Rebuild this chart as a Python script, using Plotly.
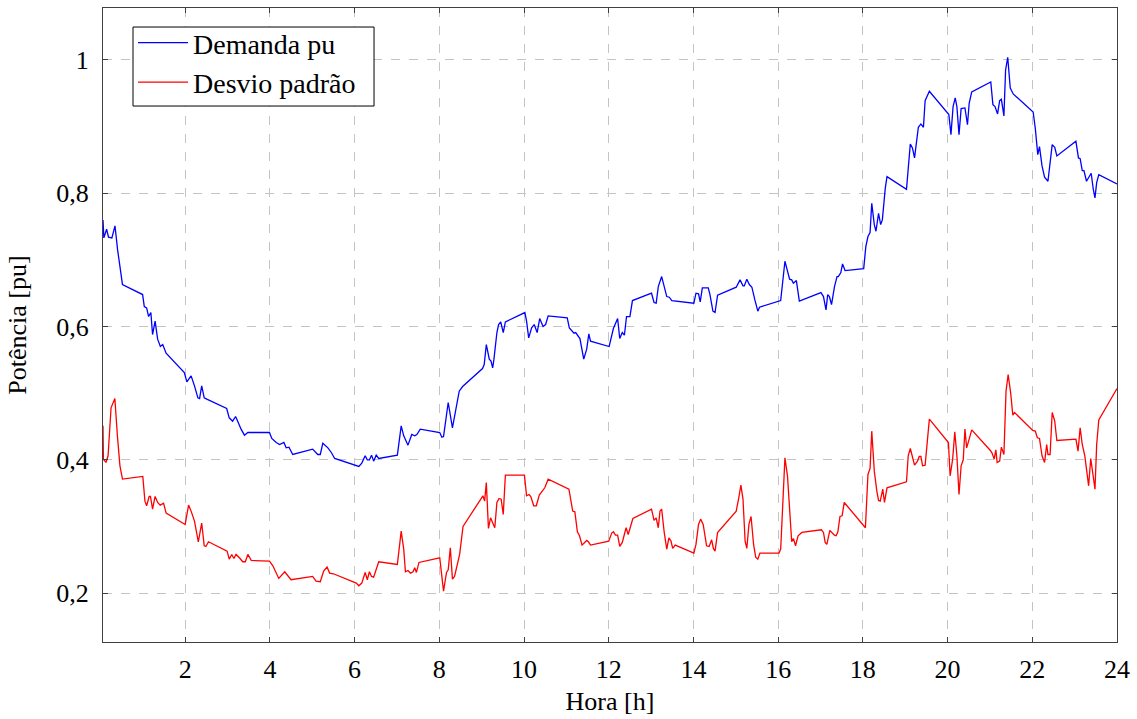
import plotly.graph_objects as go

# Demanda média (pu) ao longo do dia
hora_demanda = [
    0.06, 0.08, 0.145, 0.19, 0.27, 0.343, 0.405, 0.46, 0.52, 0.995, 1.035, 1.09, 1.137, 1.19, 1.23,
    1.29, 1.35, 1.414, 1.47, 1.55, 1.98, 2.04, 2.14, 2.22, 2.30, 2.34, 2.39, 2.45, 2.51, 2.98,
    3.04, 3.12, 3.19, 3.24, 3.32, 3.40, 3.48, 3.99, 4.045, 4.15, 4.23, 4.33, 4.385, 4.45, 4.54,
    5.01, 5.13, 5.19, 5.25, 5.37, 5.45, 5.53, 6.0, 6.10, 6.17, 6.25, 6.30, 6.35, 6.40, 6.45,
    6.51, 6.57, 7.01, 7.10, 7.16, 7.26, 7.35, 7.42, 7.47, 7.55, 8.01, 8.06, 8.10, 8.21, 8.31,
    8.39, 8.47, 8.55, 9.02, 9.06, 9.11, 9.18, 9.22, 9.26, 9.29, 9.36, 9.40, 9.45, 9.51, 9.56,
    10.02, 10.06, 10.11, 10.18, 10.24, 10.31, 10.37, 10.45, 10.51, 10.57, 11.02, 11.07, 11.12,
    11.18, 11.22, 11.28, 11.32, 11.41, 11.48, 11.53, 11.57, 12.01, 12.07, 12.11, 12.21, 12.26,
    12.32, 12.37, 12.42, 12.50, 12.56, 13.01, 13.07, 13.12, 13.17, 13.25, 13.37, 13.43, 13.49,
    14.01, 14.06, 14.12, 14.16, 14.21, 14.35, 14.39, 14.46, 14.51, 14.57, 15.01, 15.10, 15.17,
    15.20, 15.26, 15.32, 15.38, 15.45, 15.52, 15.56, 16.01, 16.06, 16.16, 16.27, 16.32, 16.36,
    16.43, 16.50, 17.01, 17.07, 17.13, 17.17, 17.21, 17.26, 17.33, 17.39, 17.42, 17.48, 17.52,
    17.58, 18.02, 18.07, 18.12, 18.17, 18.21, 18.27, 18.31, 18.37, 18.42, 18.46, 18.53, 18.57,
    19.03, 19.12, 19.17, 19.22, 19.31, 19.37, 19.43, 19.47, 19.57, 20.03, 20.08, 20.13, 20.18,
    20.22, 20.27, 20.32, 20.41, 20.47, 20.51, 20.57, 21.02, 21.07, 21.12, 21.18, 21.23, 21.27,
    21.33, 21.37, 21.42, 21.48, 21.55, 22.02, 22.07, 22.13, 22.17, 22.23, 22.29, 22.37, 22.47,
    22.53, 22.58, 23.03, 23.09, 23.13, 23.18, 23.22, 23.28, 23.33, 23.39, 23.44, 23.48, 23.52,
    23.57, 24.0,
]
demanda = [
    0.760, 0.733, 0.746, 0.734, 0.733, 0.751, 0.715, 0.690, 0.663, 0.648, 0.630, 0.628, 0.615, 0.621, 0.588,
    0.608, 0.581, 0.570, 0.573, 0.560, 0.531, 0.517, 0.526, 0.511, 0.493, 0.492, 0.511, 0.493, 0.491, 0.477,
    0.463, 0.458, 0.465, 0.458, 0.446, 0.437, 0.441, 0.441, 0.432, 0.426, 0.423, 0.426, 0.418, 0.419, 0.408,
    0.416, 0.408, 0.408, 0.425, 0.418, 0.411, 0.402, 0.392, 0.390, 0.395, 0.406, 0.400, 0.400, 0.407, 0.398,
    0.407, 0.402, 0.407, 0.451, 0.436, 0.422, 0.438, 0.436, 0.438, 0.446, 0.441, 0.434, 0.435, 0.486, 0.448,
    0.473, 0.503, 0.510, 0.537, 0.543, 0.573, 0.551, 0.548, 0.538, 0.551, 0.591, 0.603, 0.607, 0.591, 0.607,
    0.621, 0.608, 0.583, 0.598, 0.603, 0.591, 0.612, 0.600, 0.603, 0.616, 0.613, 0.598, 0.594,
    0.590, 0.591, 0.585, 0.582, 0.551, 0.566, 0.589, 0.578, 0.570, 0.588, 0.597, 0.612, 0.582,
    0.591, 0.587, 0.615, 0.615, 0.639, 0.650, 0.636, 0.635, 0.660, 0.675, 0.645, 0.644, 0.639,
    0.635, 0.650, 0.649, 0.637, 0.658, 0.658, 0.648, 0.623, 0.621, 0.647, 0.659, 0.670, 0.661,
    0.661, 0.671, 0.663, 0.659, 0.640, 0.623, 0.629, 0.639, 0.639, 0.698, 0.671, 0.670, 0.665,
    0.669, 0.638, 0.651, 0.645, 0.625, 0.648, 0.645, 0.633, 0.660, 0.675, 0.675, 0.681, 0.694,
    0.684, 0.687, 0.720, 0.735, 0.741, 0.785, 0.753, 0.743, 0.770, 0.753, 0.760, 0.808, 0.825,
    0.806, 0.874, 0.868, 0.853, 0.899, 0.904, 0.899, 0.939, 0.953, 0.918, 0.888, 0.930, 0.943,
    0.930, 0.888, 0.927, 0.928, 0.903, 0.935, 0.952, 0.967, 0.933, 0.930, 0.919, 0.939, 0.941,
    0.916, 0.985, 1.004, 0.958, 0.949, 0.922, 0.898, 0.858, 0.870, 0.841, 0.824, 0.818, 0.873,
    0.869, 0.856, 0.878, 0.853, 0.852, 0.834, 0.834, 0.818, 0.824, 0.830, 0.806, 0.793, 0.816,
    0.828, 0.814,
]

# Desvio padrão da demanda (pu)
hora_desvio = [
    0.06, 0.07, 0.13, 0.18, 0.25, 0.29, 0.34, 0.40, 0.46, 0.52, 1.0, 1.05, 1.09, 1.15, 1.18,
    1.23, 1.29, 1.35, 1.41, 1.49, 1.55, 2.0, 2.08, 2.14, 2.22, 2.31, 2.39, 2.45, 2.49, 2.55,
    2.99, 3.04, 3.10, 3.15, 3.20, 3.28, 3.36, 3.42, 3.48, 3.56, 3.99, 4.07, 4.15, 4.21, 4.35,
    4.50, 5.01, 5.09, 5.19, 5.27, 5.35, 5.41, 5.50, 6.0, 6.04, 6.10, 6.17, 6.25, 6.30, 6.35,
    6.40, 6.45, 6.57, 7.01, 7.06, 7.10, 7.16, 7.20, 7.26, 7.32, 7.38, 7.42, 7.46, 7.52, 8.01,
    8.05, 8.10, 8.17, 8.21, 8.26, 8.31, 8.36, 8.43, 8.48, 8.56, 8.99, 9.03, 9.07, 9.11, 9.16,
    9.21, 9.31, 9.36, 9.41, 9.46, 9.51, 9.56, 10.01, 10.06, 10.12, 10.16, 10.23, 10.29, 10.36,
    10.45, 10.49, 10.57, 11.06, 11.15, 11.20, 11.26, 11.31, 11.37, 11.44, 11.48, 11.52, 11.57,
    12.0, 12.07, 12.11, 12.16, 12.21, 12.26, 12.32, 12.41, 12.46, 12.57, 13.01, 13.07, 13.12,
    13.17, 13.21, 13.25, 13.31, 13.37, 13.42, 13.47, 13.51, 13.57, 14.01, 14.06, 14.12, 14.17,
    14.23, 14.31, 14.37, 14.43, 14.47, 14.51, 14.57, 15.01, 15.07, 15.12, 15.17, 15.22, 15.26,
    15.31, 15.36, 15.42, 15.47, 15.52, 15.57, 16.02, 16.06, 16.16, 16.22, 16.27, 16.32, 16.36,
    16.41, 16.47, 16.56, 17.02, 17.07, 17.11, 17.15, 17.22, 17.28, 17.33, 17.37, 17.41, 17.46,
    17.51, 17.56, 18.06, 18.12, 18.17, 18.21, 18.27, 18.33, 18.37, 18.41, 18.47, 18.51, 18.57,
    19.03, 19.07, 19.12, 19.17, 19.22, 19.29, 19.33, 19.37, 19.41, 19.47, 19.57, 20.02, 20.06,
    20.12, 20.17, 20.22, 20.27, 20.32, 20.37, 20.41, 20.45, 20.51, 20.57, 21.01, 21.05, 21.10,
    21.14, 21.17, 21.23, 21.27, 21.33, 21.38, 21.43, 21.49, 21.54, 21.58, 22.01, 22.07, 22.12,
    22.17, 22.23, 22.29, 22.34, 22.37, 22.42, 22.47, 22.53, 22.58, 23.03, 23.08, 23.13, 23.18,
    23.24, 23.28, 23.33, 23.38, 23.43, 23.48, 23.52, 23.57, 24.0,
]
desvio = [
    0.451, 0.401, 0.396, 0.406, 0.478, 0.484, 0.492, 0.436, 0.391, 0.371, 0.375, 0.338, 0.331, 0.345, 0.345,
    0.326, 0.345, 0.336, 0.332, 0.335, 0.320, 0.303, 0.332, 0.323, 0.308, 0.277, 0.305, 0.271, 0.270, 0.277,
    0.263, 0.251, 0.258, 0.252, 0.258, 0.253, 0.247, 0.247, 0.258, 0.249, 0.248, 0.241, 0.231, 0.222, 0.232,
    0.220, 0.225, 0.218, 0.217, 0.233, 0.239, 0.230, 0.229, 0.217, 0.215, 0.211, 0.215, 0.231, 0.220, 0.232,
    0.225, 0.224, 0.247, 0.243, 0.268, 0.293, 0.266, 0.232, 0.234, 0.230, 0.232, 0.238, 0.231, 0.246, 0.253,
    0.231, 0.203, 0.231, 0.235, 0.268, 0.221, 0.225, 0.243, 0.258, 0.300, 0.343, 0.346, 0.338, 0.366, 0.297,
    0.313, 0.298, 0.336, 0.342, 0.341, 0.318, 0.377, 0.377, 0.346, 0.348, 0.345, 0.331, 0.331, 0.347,
    0.354, 0.358, 0.371, 0.356, 0.323, 0.322, 0.292, 0.286, 0.272, 0.277, 0.279, 0.277, 0.272,
    0.278, 0.290, 0.292, 0.287, 0.287, 0.270, 0.276, 0.298, 0.288, 0.312, 0.326, 0.309, 0.313,
    0.298, 0.323, 0.326, 0.291, 0.266, 0.283, 0.278, 0.267, 0.272, 0.260, 0.273, 0.303, 0.311,
    0.303, 0.271, 0.270, 0.280, 0.267, 0.263, 0.291, 0.323, 0.343, 0.362, 0.341, 0.278, 0.267,
    0.303, 0.315, 0.273, 0.254, 0.251, 0.260, 0.260, 0.266, 0.403, 0.376, 0.326, 0.277, 0.282,
    0.271, 0.286, 0.291, 0.295, 0.291, 0.276, 0.273, 0.294, 0.290, 0.287, 0.286, 0.292, 0.315,
    0.316, 0.336, 0.298, 0.378, 0.387, 0.443, 0.383, 0.353, 0.339, 0.338, 0.356, 0.336, 0.358,
    0.367, 0.406, 0.417, 0.405, 0.392, 0.398, 0.405, 0.405, 0.391, 0.392, 0.461, 0.426, 0.376,
    0.401, 0.442, 0.406, 0.348, 0.391, 0.400, 0.446, 0.418, 0.431, 0.445, 0.414, 0.410, 0.401,
    0.415, 0.396, 0.398, 0.419, 0.408, 0.503, 0.528, 0.500, 0.467, 0.471, 0.444, 0.443, 0.433,
    0.432, 0.406, 0.396, 0.423, 0.408, 0.408, 0.471, 0.458, 0.429, 0.431, 0.413, 0.448, 0.423,
    0.406, 0.386, 0.361, 0.402, 0.382, 0.356, 0.423, 0.460, 0.507,
]

x_ticks = list(range(2, 25, 2))
y_ticks = [0.2, 0.4, 0.6, 0.8, 1.0]
y_tick_text = ["0,2", "0,4", "0,6", "0,8", "1"]

FONT = "Liberation Serif"
AXIS_COLOR = "#404040"
GRID_COLOR = "#c4c4c4"

fig = go.Figure()
fig.add_trace(go.Scatter(
    x=hora_demanda, y=demanda, mode="lines", name="Demanda pu",
    line=dict(color="#0000ff", width=1.3),
))
fig.add_trace(go.Scatter(
    x=hora_desvio, y=desvio, mode="lines", name="Desvio padrão",
    line=dict(color="#ff0000", width=1.3),
))

# Caixa da legenda (fundo branco com borda preta), desenhada sobre as curvas
fig.add_shape(
    type="rect", xref="paper", yref="paper",
    x0=0.0296, x1=0.2673, y0=0.8454, y1=0.970,
    line=dict(color="black", width=1), fillcolor="white", layer="above",
)

axis_common = dict(
    showline=True, linecolor=AXIS_COLOR, linewidth=1, mirror="ticks",
    ticks="inside", ticklen=5, tickcolor=AXIS_COLOR, tickwidth=1,
    showgrid=True, gridcolor=GRID_COLOR, griddash="dash", gridwidth=1,
    zeroline=False, tickfont=dict(family=FONT, size=26, color="black"),
)

fig.update_layout(
    width=1137, height=719,
    margin=dict(l=103, r=20, t=8, b=77),
    paper_bgcolor="white", plot_bgcolor="white",
    font=dict(family=FONT, size=26, color="black"),
    showlegend=True,
    legend=dict(
        x=0.0296, y=0.9842, xanchor="left", yanchor="top",
        borderwidth=0, bgcolor="rgba(0,0,0,0)",
        font=dict(family=FONT, size=28, color="black"),
        itemwidth=50,
    ),
    xaxis=dict(
        range=[0.06, 24], tickvals=x_ticks,
        title=dict(text="Hora [h]", font=dict(family=FONT, size=26), standoff=8),
        ticklabelstandoff=4,
        **axis_common,
    ),
    yaxis=dict(
        range=[0.1266, 1.078], tickvals=y_ticks, ticktext=y_tick_text,
        title=dict(text="Potência [pu]", font=dict(family=FONT, size=26), standoff=22),
        ticklabelstandoff=8,
        **axis_common,
    ),
)

fig.write_html("out.html")
